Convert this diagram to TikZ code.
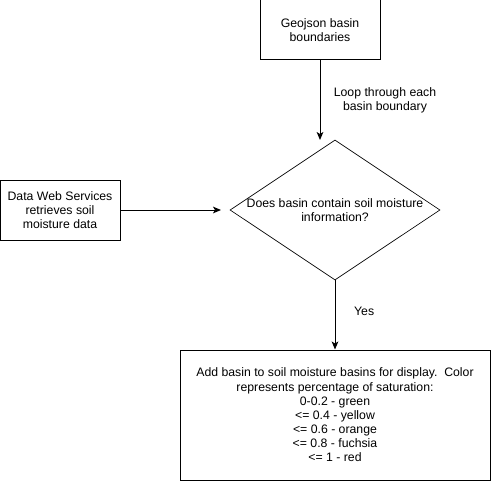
\documentclass[tikz,border=0pt]{standalone}
\usepackage{fontspec}
\setmainfont{Liberation Sans}
\usetikzlibrary{shapes.geometric,arrows.meta}
\begin{document}
\begin{tikzpicture}[x=0.75pt,y=-0.75pt,
  every node/.style={font=\fontsize{9.2pt}{10.6pt}\selectfont, align=center, inner sep=0pt},
  box/.style={draw, line width=0.75pt, rectangle},
  flow/.style={draw, line width=0.75pt, -{Stealth[length=6pt,width=5pt,inset=1.5pt]}}]
\useasboundingbox (0,0) rectangle (491,481);
\node[box, minimum width=120*0.75pt, minimum height=60*0.75pt] (geo) at (320,30) {Geojson basin\\boundaries};
\node[box, minimum width=120*0.75pt, minimum height=60*0.75pt] (dws) at (60,210) {Data Web Services\\retrieves soil\\moisture data};
\node[draw, line width=0.5pt, diamond, minimum width=210*0.75pt, minimum height=140*0.75pt] (dec) at (335,210) {};
\node (dectext) at (335,210) {Does basin contain soil moisture\\information?};
\node[box, minimum width=310*0.75pt, minimum height=130*0.75pt] (add) at (335,415) {Add basin to soil moisture basins for display.\ \ Color\\represents percentage of saturation:\\0-0.2 - green\\\textless= 0.4 - yellow\\\textless= 0.6 - orange\\\textless= 0.8 - fuchsia\\\textless= 1 - red};
\coordinate (loopend) at (320,140);
\coordinate (dwsend) at (221,210);
\draw[flow] (geo.south) -- (loopend) node[pos=0.5, right=10pt] (looplbl) {Loop through each\\basin boundary};
\draw[flow] (dws.east) -- (dwsend);
\draw[flow] (dec.south) -- (add.north) node[pos=0.45, right=14pt] (yes) {Yes};
\end{tikzpicture}
\end{document}
